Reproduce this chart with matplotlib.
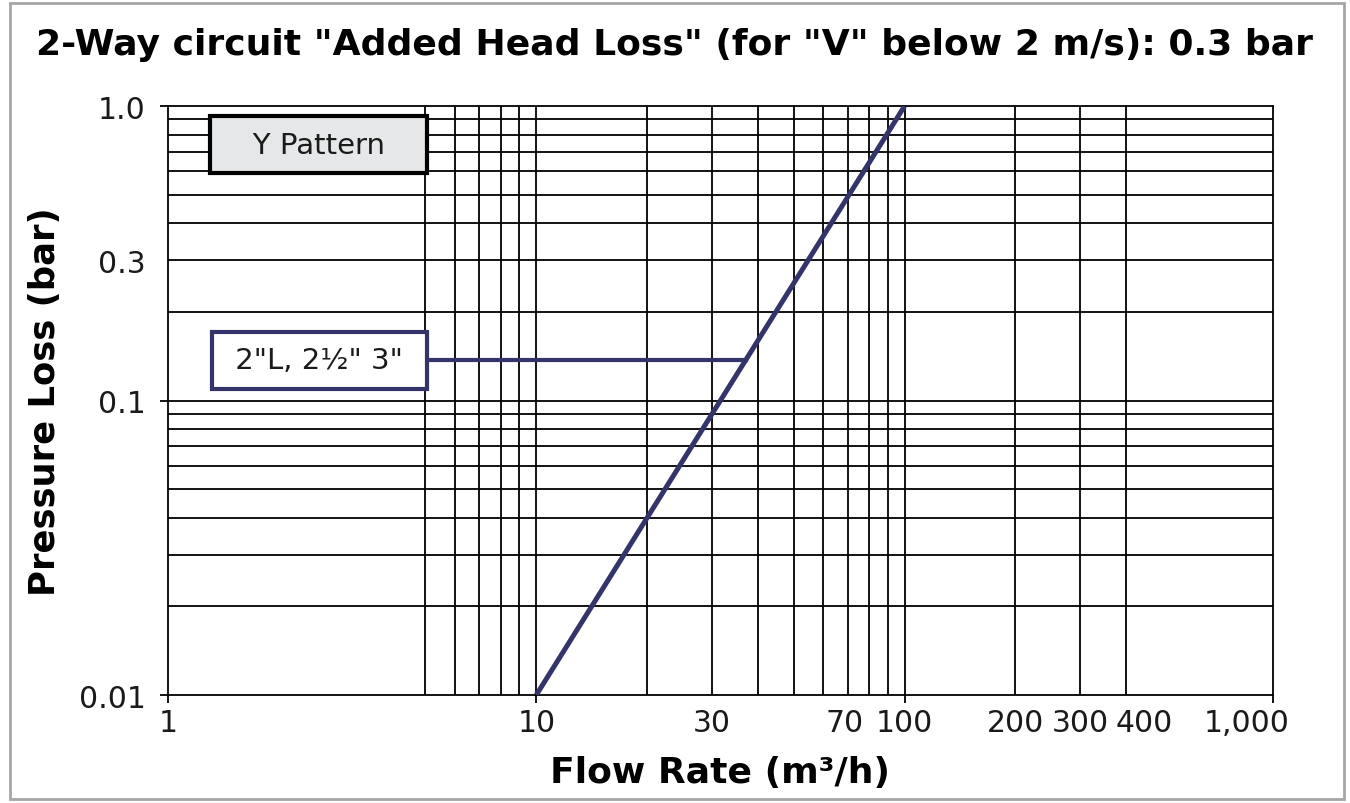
import numpy as np
import matplotlib
matplotlib.use("Agg")
import matplotlib.pyplot as plt
from matplotlib.ticker import FixedLocator, NullFormatter
from matplotlib.transforms import ScaledTranslation
from matplotlib.patches import Rectangle

# data (log-log straight line)
flow = [10, 100]          # m3/h
loss = [0.01, 1.0]        # bar

x_ticks = [1, 10, 30, 70, 100, 200, 300, 400, 1000]
x_labels = ["1", "10", "30", "70", "100", "200", "300", "400", "1,000"]
y_ticks = [0.01, 0.1, 0.3, 1.0]
y_labels = ["0.01", "0.1", "0.3", "1.0"]

x_grid = [5, 6, 7, 8, 9, 10, 20, 30, 40, 50, 60, 70, 80, 90, 100, 200, 300, 400]
y_grid = [0.02, 0.03, 0.04, 0.05, 0.06, 0.07, 0.08, 0.09,
          0.1, 0.2, 0.3, 0.4, 0.5, 0.6, 0.7, 0.8, 0.9]

series_label = '2"L, 2½" 3"'
label_loss = 0.137
label_flow_pos = 2.58
pattern_label = "Y Pattern"
pattern_pos = (2.57, 0.74)

line_color = "#32346a"

fig = plt.figure(figsize=(13.5, 8.04), dpi=100)
ax = fig.add_axes([0.1244, 0.1343, 0.8185, 0.7326])
ax.set_xscale("log")
ax.set_yscale("log")
ax.set_xlim(1, 1000)
ax.set_ylim(0.01, 1.0)

# grid
ax.xaxis.remove_overlapping_locs = False
ax.yaxis.remove_overlapping_locs = False
ax.xaxis.set_minor_locator(FixedLocator(x_grid))
ax.yaxis.set_minor_locator(FixedLocator(y_grid))
ax.xaxis.set_minor_formatter(NullFormatter())
ax.yaxis.set_minor_formatter(NullFormatter())
ax.grid(which="minor", color="black", linewidth=1.3)
ax.grid(which="major", visible=False)
ax.tick_params(which="minor", length=0)
ax.set_axisbelow(True)

ax.set_xticks(x_ticks)
ax.set_xticklabels(x_labels)
ax.set_yticks(y_ticks)
ax.set_yticklabels(y_labels)
ax.tick_params(which="major", length=6, width=1.3, color="black",
               labelsize=21.5, labelcolor="#1a1a1a")
ax.tick_params(axis="y", which="major", pad=10)
ax.tick_params(axis="x", which="major", pad=3)

# only decade ticks get tick marks
for val, t in zip(x_ticks, ax.xaxis.get_major_ticks()):
    if val not in (1, 10, 100, 1000):
        t.tick1line.set_visible(False)
for val, t in zip(y_ticks, ax.yaxis.get_major_ticks()):
    if val not in (0.01, 0.1, 1.0):
        t.tick1line.set_visible(False)

# nudge crowded labels like the original
for val, lab in zip(x_ticks, ax.get_xticklabels()):
    if val == 400:
        lab.set_transform(lab.get_transform() + ScaledTranslation(0.18, 0, fig.dpi_scale_trans))
    elif val == 1000:
        lab.set_transform(lab.get_transform() + ScaledTranslation(-0.26, 0, fig.dpi_scale_trans))
    elif val == 70:
        lab.set_transform(lab.get_transform() + ScaledTranslation(-0.03, 0, fig.dpi_scale_trans))

for sp in ax.spines.values():
    sp.set_color("black")
    sp.set_linewidth(1.3)

# curve
ax.plot(flow, loss, color=line_color, linewidth=3.6, solid_capstyle="butt", zorder=4)

# connector from label box to curve
conn_flow = 10 ** np.interp(np.log10(label_loss), np.log10(loss), np.log10(flow))
ax.plot([label_flow_pos, conn_flow], [label_loss, label_loss],
        color=line_color, linewidth=3.0, zorder=3)

ax.text(label_flow_pos, label_loss, " " + series_label + " ", fontsize=21,
        ha="center", va="center", color="#1a1a1a", zorder=6,
        bbox=dict(boxstyle="square,pad=0.5", facecolor="white",
                  edgecolor=line_color, linewidth=3.0))

ax.text(pattern_pos[0], pattern_pos[1], "   " + pattern_label + "   ", fontsize=21,
        ha="center", va="center", color="#1a1a1a", zorder=6,
        bbox=dict(boxstyle="square,pad=0.5", facecolor="#e6e7e8",
                  edgecolor="black", linewidth=3.0))

ax.set_xlabel("Flow Rate (m³/h)", fontsize=26, fontweight="bold", labelpad=13)
ax.set_ylabel("Pressure Loss (bar)", fontsize=25.5, fontweight="bold", labelpad=12)

fig.text(0.5, 0.944, '2-Way circuit "Added Head Loss" (for "V" below 2 m/s): 0.3 bar',
         fontsize=26, fontweight="bold", ha="center", va="center")

# outer frame
fig.patches.append(Rectangle((0.0074, 0.005), 0.988, 0.99, transform=fig.transFigure,
                             fill=False, edgecolor="#a6a6a6", linewidth=2))

fig.savefig("out.png", dpi=100)
